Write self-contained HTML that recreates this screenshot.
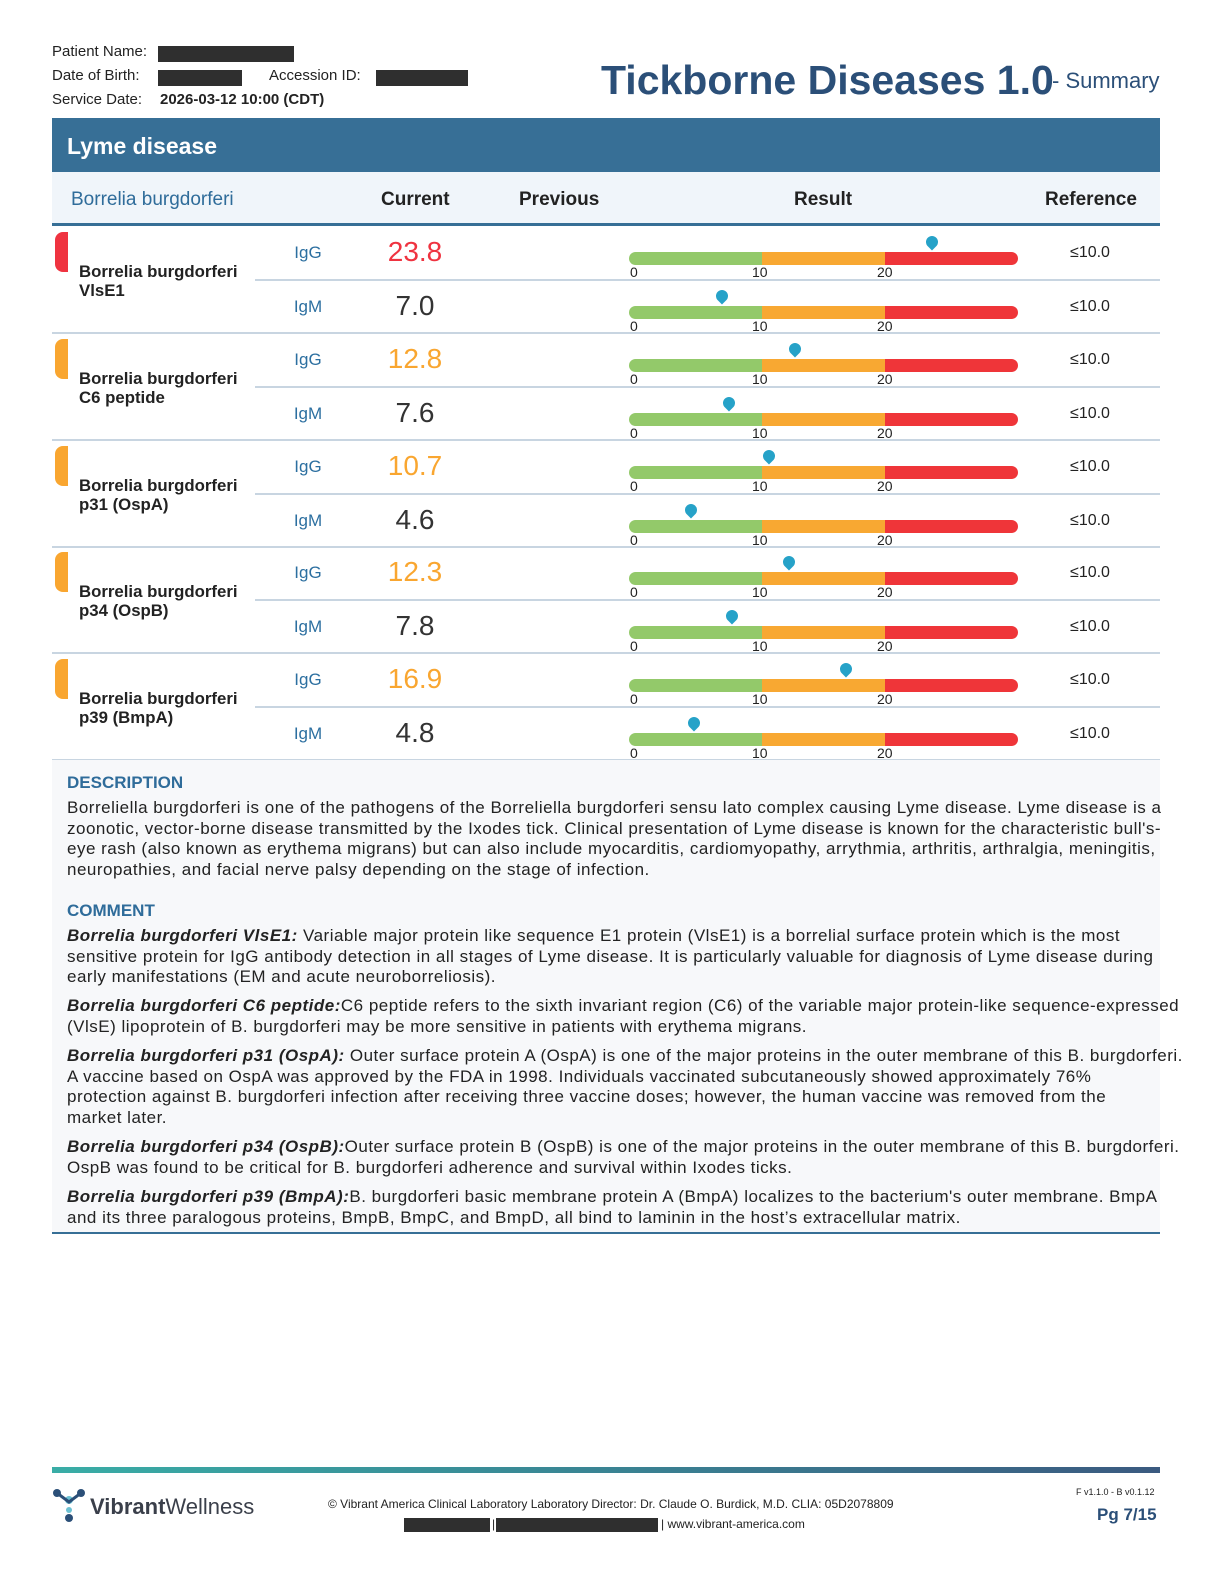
<!DOCTYPE html>
<html><head><meta charset="utf-8"><style>
*{margin:0;padding:0;box-sizing:border-box}
body{width:1224px;height:1584px;background:#fff;font-family:"Liberation Sans",sans-serif;color:#222;position:relative;overflow:hidden}
.a{position:absolute;white-space:nowrap}
.red{background:#2f2f2f;position:absolute;height:16px}
.tab{position:absolute;left:55px;width:13px;height:40px;border-radius:8px 0 0 8px}
.nm{position:absolute;left:79px;font-size:16.8px;font-weight:bold;line-height:19px;color:#222}
.ig{position:absolute;width:60px;left:278px;text-align:center;font-size:17px;color:#2c6fa0}
.cv{position:absolute;width:120px;left:355px;text-align:center;font-size:28px}
.rf{position:absolute;left:1040px;width:100px;text-align:center;font-size:16px}
.bar{position:absolute;left:629px;width:389px;height:13px;border-radius:7px;overflow:hidden;background:linear-gradient(90deg,#93c96a 0,#93c96a 133px,#f8a832 133px,#f8a832 256px,#ef3539 256px)}
.tk{position:absolute;font-size:14px;color:#222}
.mk{position:absolute;width:12px;height:12px;background:#26a2c8;border-radius:50% 50% 50% 0;transform:rotate(-45deg)}
.sl{position:absolute;height:2px;background:#c8d5e1}
.txt{position:absolute;left:67px;font-size:17px;letter-spacing:0.5px;line-height:20.7px;color:#222;white-space:nowrap}
.h{font-weight:bold;color:#2f6c9a;font-size:17px;letter-spacing:0}
</style></head><body>
<div class="a" style="left:52px;top:43px;font-size:15px">Patient Name:</div><div class="red" style="left:158px;top:46px;width:136px"></div>
<div class="a" style="left:52px;top:67px;font-size:15px">Date of Birth:</div><div class="red" style="left:158px;top:70px;width:84px"></div>
<div class="a" style="left:269px;top:67px;font-size:15px">Accession ID:</div><div class="red" style="left:376px;top:70px;width:92px"></div>
<div class="a" style="left:52px;top:91px;font-size:15px">Service Date:</div><div class="a" style="left:160px;top:91px;font-size:15px;font-weight:bold">2026-03-12 10:00 (CDT)</div>
<div class="a" style="left:601px;top:57px;font-size:41px;font-weight:bold;color:#2b4f78">Tickborne Diseases 1.0</div>
<div class="a" style="left:1052px;top:68px;font-size:22px;color:#2b4f78">- Summary</div>

<div class="a" style="left:52px;top:118px;width:1108px;height:54px;background:#376f96"></div>
<div class="a" style="left:67px;top:133px;font-size:23px;font-weight:bold;color:#fff">Lyme disease</div>
<div class="a" style="left:52px;top:172px;width:1108px;height:54px;background:#f0f5fa;border-bottom:3px solid #376f96"></div>
<div class="a" style="left:71px;top:189px;font-size:19px;color:#2f6c9a">Borrelia burgdorferi</div>
<div class="a" style="left:381px;top:189px;font-size:19px;font-weight:bold">Current</div>
<div class="a" style="left:519px;top:189px;font-size:19px;font-weight:bold">Previous</div>
<div class="a" style="left:794px;top:189px;font-size:19px;font-weight:bold">Result</div>
<div class="a" style="left:1045px;top:189px;font-size:19px;font-weight:bold">Reference</div>

<div id="rows"></div>
<script>
var g=[["VlsE1","#ef3340",23.8,"#ef3340",7.0,932,722],["C6 peptide","#f9a630",12.8,"#f9a630",7.6,795,729],["p31 (OspA)","#f9a630",10.7,"#f9a630",4.6,769,691],["p34 (OspB)","#f9a630",12.3,"#f9a630",7.8,789,732],["p39 (BmpA)","#f9a630",16.9,"#f9a630",4.8,846,694]];
var h="";
g.forEach(function(r,i){var t=226+Math.round(i*106.8);
h+='<div class="tab" style="top:'+(t+6)+'px;background:'+r[1]+'"></div>';
h+='<div class="nm" style="top:'+(t+36)+'px">Borrelia burgdorferi<br>'+r[0]+'</div>';
h+='<div class="sl" style="left:255px;width:905px;top:'+(t+53)+'px"></div>';
h+='<div class="sl" style="left:52px;width:1108px;top:'+(t+106)+'px"></div>';
[[0,"IgG",r[2].toFixed(1),r[3],r[5]],[54,"IgM",r[4].toFixed(1),"#333",r[6]]].forEach(function(s){var y=t+s[0];
h+='<div class="ig" style="top:'+(y+17)+'px">'+s[1]+'</div>';
h+='<div class="cv" style="top:'+(y+10)+'px;color:'+s[3]+'">'+s[2]+'</div>';
h+='<div class="rf" style="top:'+(y+18)+'px">≤10.0</div>';
h+='<div class="bar" style="top:'+(y+26)+'px"></div>';
h+='<div class="tk" style="left:630px;top:'+(y+38)+'px">0</div><div class="tk" style="left:752px;top:'+(y+38)+'px">10</div><div class="tk" style="left:877px;top:'+(y+38)+'px">20</div>';
h+='<div class="mk" style="left:'+(s[4]-6)+'px;top:'+(y+10)+'px"></div>';});
});
document.getElementById("rows").innerHTML=h;
</script>

<div class="a" style="left:52px;top:760px;width:1108px;height:474px;background:#f7f8fa;border-bottom:2px solid #376f96"></div>
<div class="txt h" style="top:773px">DESCRIPTION</div>
<div class="txt" style="top:798px">Borreliella burgdorferi is one of the pathogens of the Borreliella burgdorferi sensu lato complex causing Lyme disease. Lyme disease is a<br>zoonotic, vector-borne disease transmitted by the Ixodes tick. Clinical presentation of Lyme disease is known for the characteristic bull's-<br>eye rash (also known as erythema migrans) but can also include myocarditis, cardiomyopathy, arrythmia, arthritis, arthralgia, meningitis,<br>neuropathies, and facial nerve palsy depending on the stage of infection.</div>
<div class="txt h" style="top:901px">COMMENT</div>
<div class="txt" style="top:926px"><b><i>Borrelia burgdorferi VlsE1:</i></b> Variable major protein like sequence E1 protein (VlsE1) is a borrelial surface protein which is the most<br>sensitive protein for IgG antibody detection in all stages of Lyme disease. It is particularly valuable for diagnosis of Lyme disease during<br>early manifestations (EM and acute neuroborreliosis).</div>
<div class="txt" style="top:996px"><b><i>Borrelia burgdorferi C6 peptide:</i></b>C6 peptide refers to the sixth invariant region (C6) of the variable major protein-like sequence-expressed<br>(VlsE) lipoprotein of B. burgdorferi may be more sensitive in patients with erythema migrans.</div>
<div class="txt" style="top:1046px"><b><i>Borrelia burgdorferi p31 (OspA):</i></b> Outer surface protein A (OspA) is one of the major proteins in the outer membrane of this B. burgdorferi.<br>A vaccine based on OspA was approved by the FDA in 1998. Individuals vaccinated subcutaneously showed approximately 76%<br>protection against B. burgdorferi infection after receiving three vaccine doses; however, the human vaccine was removed from the<br>market later.</div>
<div class="txt" style="top:1137px"><b><i>Borrelia burgdorferi p34 (OspB):</i></b>Outer surface protein B (OspB) is one of the major proteins in the outer membrane of this B. burgdorferi.<br>OspB was found to be critical for B. burgdorferi adherence and survival within Ixodes ticks.</div>
<div class="txt" style="top:1187px"><b><i>Borrelia burgdorferi p39 (BmpA):</i></b>B. burgdorferi basic membrane protein A (BmpA) localizes to the bacterium's outer membrane. BmpA<br>and its three paralogous proteins, BmpB, BmpC, and BmpD, all bind to laminin in the host’s extracellular matrix.</div>

<div class="a" style="left:52px;top:1467px;width:1108px;height:6px;background:linear-gradient(90deg,#3aada6,#3b5a80)"></div>
<svg class="a" style="left:52px;top:1488px" width="34" height="34"><circle cx="5" cy="5" r="4" fill="#2b4f78"/><circle cx="29" cy="5" r="4" fill="#2b4f78"/><circle cx="17" cy="12" r="4" fill="#6cc1d3"/><circle cx="17" cy="22" r="3" fill="#6cc1d3"/><circle cx="17" cy="30" r="4" fill="#2b4f78"/><path d="M5 5 L17 14 L29 5" stroke="#2b4f78" stroke-width="3" fill="none"/></svg>
<div class="a" style="left:90px;top:1494px;font-size:22px;color:#3a3f4a"><b>Vibrant</b>Wellness</div>
<div class="a" style="left:328px;top:1497px;font-size:12px">© Vibrant America Clinical Laboratory Laboratory Director: Dr. Claude O. Burdick, M.D. CLIA: 05D2078809</div>
<div class="red" style="left:404px;top:1518px;width:86px;height:14px"></div>
<div class="a" style="left:492px;top:1517px;font-size:12px">|</div>
<div class="red" style="left:496px;top:1518px;width:162px;height:14px"></div>
<div class="a" style="left:661px;top:1517px;font-size:12px">| www.vibrant-america.com</div>
<div class="a" style="left:1076px;top:1487px;font-size:9px">F v1.1.0 - B v0.1.12</div>
<div class="a" style="left:1097px;top:1505px;font-size:17px;font-weight:bold;color:#2b4f78">Pg 7/15</div>
</body></html>
